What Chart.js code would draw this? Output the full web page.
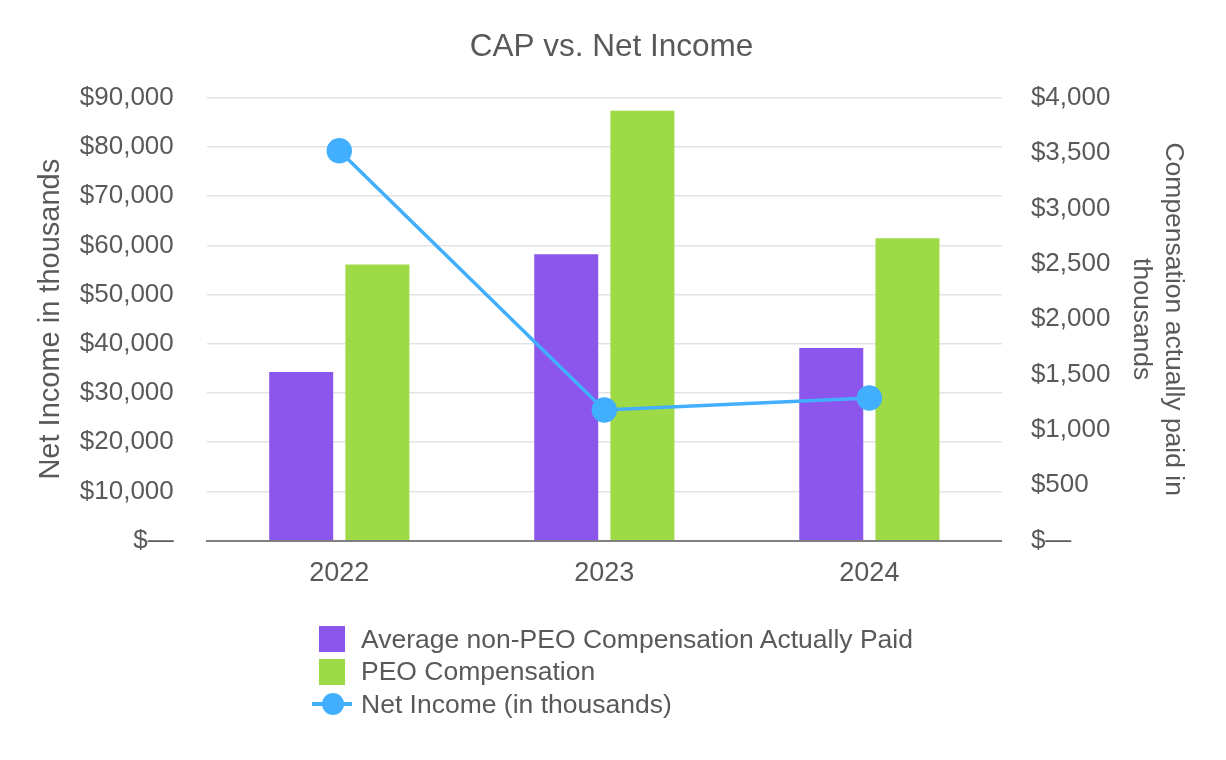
<!DOCTYPE html>
<html>
<head>
<meta charset="utf-8">
<script src="https://cdn.jsdelivr.net/npm/chart.js@4.4.1/dist/chart.umd.min.js"></script>
<style>
  body { margin: 0; background: #fff; }
  #wrap { position: relative; width: 1226px; height: 760px; }
  #legend { position: absolute; left: 312px; top: 623px; font-family: "Liberation Sans", Arial, sans-serif; font-size: 26.5px; color: #595959; }
  #legend .item { display: flex; align-items: center; height: 32.5px; }
  #legend .mark { width: 40px; height: 26px; position: relative; margin-right: 9px; }
  #legend .box { position: absolute; left: 7px; top: 0; width: 26px; height: 26px; }
  #legend .ln { position: absolute; left: 0; top: 11px; width: 40px; height: 4px; }
  #legend .dot { position: absolute; left: 10px; top: 2px; width: 22px; height: 22px; border-radius: 50%; }
</style>
</head>
<body>
<div id="wrap">
  <canvas id="capChart" width="1226" height="760"></canvas>
  <div id="legend"></div>
</div>
<script>
// values
const years = ['2022', '2023', '2024'];
const nonPeoCap = [1523, 2586, 1739];      // right axis, $ thousands
const peoCap = [2495, 3883, 2732];         // right axis, $ thousands
const netIncome = [79250, 26550, 29000];   // left axis, $ thousands

const purple = '#8c56ec';
const green = '#9ed946';
const blue = '#41affe';
const textGrey = '#595959';
const fontFamily = '"Liberation Sans", Arial, sans-serif';

function dollars(v) {
  if (v === 0) return '$\u2014';
  return '$' + v.toLocaleString('en-US');
}

var ctx = document.getElementById('capChart').getContext('2d');
var capChart = new Chart(ctx, {
  data: {
    labels: years,
    datasets: [{
      type: 'bar',
      label: 'Average non-PEO Compensation Actually Paid',
      data: nonPeoCap,
      backgroundColor: purple,
      yAxisID: 'y1',
      order: 1,
      barPercentage: 0.84,
      categoryPercentage: 0.575
    },
    {
      type: 'bar',
      label: 'PEO Compensation',
      data: peoCap,
      backgroundColor: green,
      yAxisID: 'y1',
      order: 1,
      barPercentage: 0.84,
      categoryPercentage: 0.575
    },
    {
      type: 'line',
      label: 'Net Income (in thousands)',
      data: netIncome,
      borderColor: blue,
      backgroundColor: blue,
      borderWidth: 3.5,
      pointRadius: 11,
      pointHoverRadius: 11,
      yAxisID: 'y',
      order: 0
    }]
  },
  options: {
    responsive: false,
    animation: false,
    layout: { padding: { left: 34, right: 37, top: 10, bottom: 153 } },
    plugins: {
      legend: { display: false },
      tooltip: { enabled: false },
      title: {
        display: true,
        text: 'CAP vs. Net Income',
        color: textGrey,
        font: { family: fontFamily, size: 31.5, weight: 'normal' },
        padding: { top: 18, bottom: 32 }
      }
    },
    scales: {
      x: {
        grid: { display: false, drawTicks: false },
        border: { color: '#7f7f7f', width: 2 },
        ticks: { color: textGrey, font: { family: fontFamily, size: 27 }, padding: 17 }
      },
      y: {
        position: 'left',
        min: 0,
        max: 90000,
        ticks: { stepSize: 10000, callback: dollars, color: textGrey, font: { family: fontFamily, size: 26 }, padding: 0 },
        // invisible tick marks keep the gap between labels and plot
        grid: { color: '#e3e3e3', lineWidth: 1.5, drawTicks: true, tickLength: 33, tickColor: 'rgba(0,0,0,0)' },
        border: { display: false },
        title: { display: true, text: 'Net Income in thousands', color: textGrey, font: { family: fontFamily, size: 29 }, padding: { top: 0, bottom: 11 } }
      },
      y1: {
        position: 'right',
        min: 0,
        max: 4000,
        ticks: { stepSize: 500, callback: dollars, color: textGrey, font: { family: fontFamily, size: 26 }, padding: 0 },
        grid: { drawOnChartArea: false, drawTicks: true, tickLength: 29, tickColor: 'rgba(0,0,0,0)' },
        border: { display: false },
        title: { display: true, text: ['Compensation actually paid in', 'thousands'], color: textGrey, font: { family: fontFamily, size: 26.5 }, padding: { top: 0, bottom: 15 } }
      }
    }
  }
});

// vertical legend below the chart, built from the datasets
var legendEl = document.getElementById('legend');
capChart.data.datasets.forEach(function (ds) {
  var item = document.createElement('div');
  item.className = 'item';
  var mark = document.createElement('div');
  mark.className = 'mark';
  if (ds.type === 'line') {
    mark.innerHTML = '<div class="ln" style="background:' + ds.borderColor + '"></div>' +
      '<div class="dot" style="background:' + ds.backgroundColor + '"></div>';
  } else {
    mark.innerHTML = '<div class="box" style="background:' + ds.backgroundColor + '"></div>';
  }
  var txt = document.createElement('span');
  txt.textContent = ds.label;
  item.appendChild(mark);
  item.appendChild(txt);
  legendEl.appendChild(item);
});
</script>
</body>
</html>
